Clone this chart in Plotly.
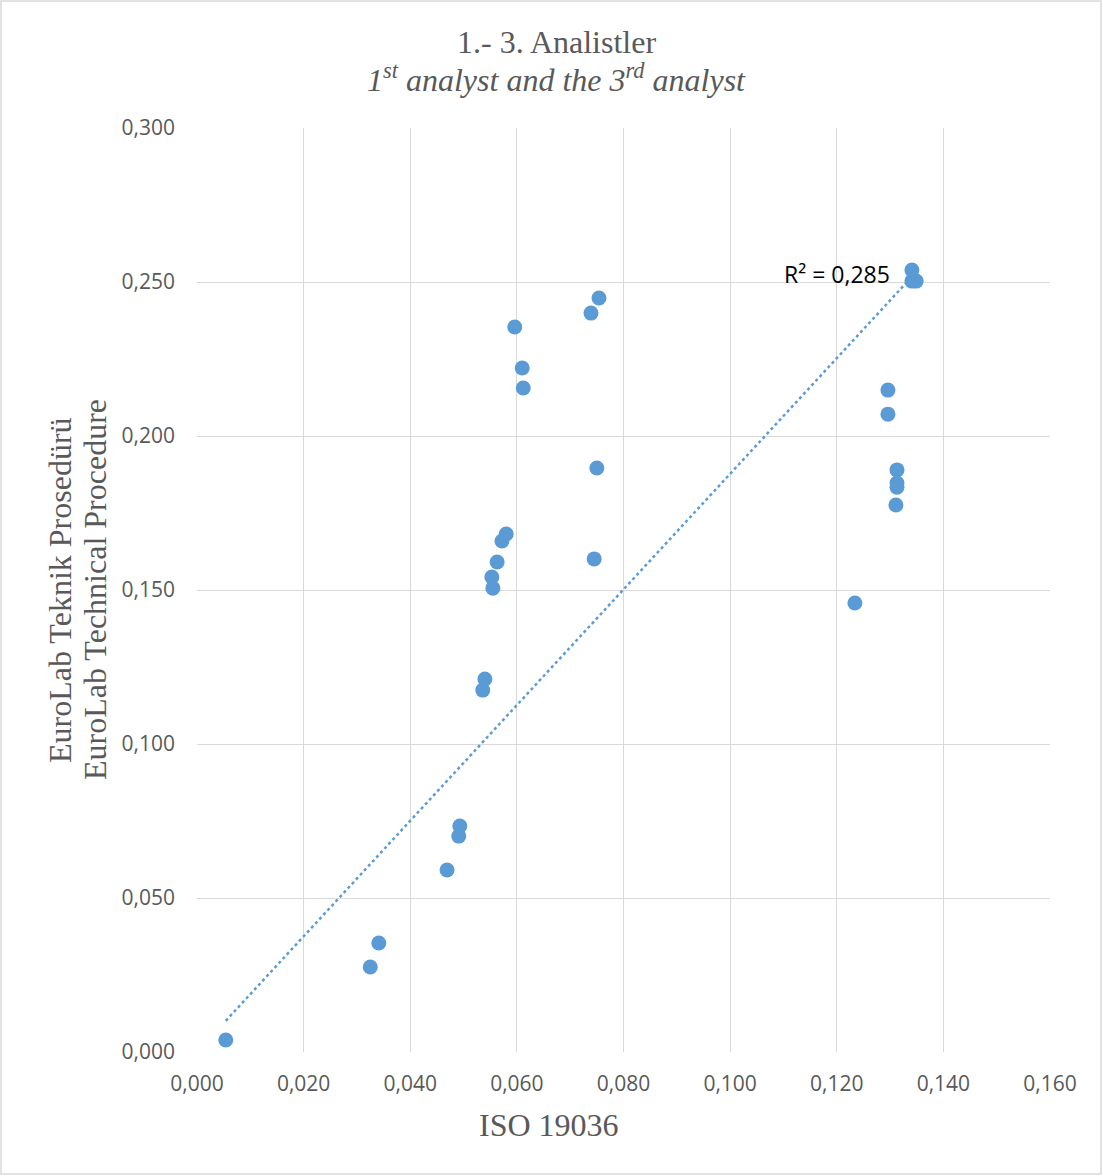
import numpy as np
import plotly.graph_objects as go

iso = [0.0054, 0.0325, 0.0341, 0.0469, 0.0491, 0.0493, 0.0536, 0.0540, 0.0555, 0.0553,
       0.0563, 0.0572, 0.0580, 0.0596, 0.0610, 0.0612, 0.0739, 0.0754, 0.0750, 0.0745,
       0.1234, 0.1296, 0.1296, 0.1313, 0.1313, 0.1313, 0.1311, 0.1341, 0.1341, 0.1349]
eurolab = [0.0039, 0.0276, 0.0354, 0.0591, 0.0701, 0.0734, 0.1175, 0.1211, 0.1506, 0.1542,
           0.1591, 0.1659, 0.1682, 0.2354, 0.2221, 0.2156, 0.2399, 0.2448, 0.1896, 0.1601,
           0.1458, 0.2149, 0.2071, 0.1890, 0.1847, 0.1834, 0.1776, 0.2539, 0.2503, 0.2503]
r2_label = "R² = 0,285"

x = np.array(iso)
y = np.array(eurolab)
# linear trendline with intercept fixed at 0 (least squares through the origin)
slope = float(np.sum(x * y) / np.sum(x * x))
xl = np.array([x.min(), x.max()])
yl = slope * xl

W, H = 1103, 1176
L, R, T, B = 197, 53, 128, 124
pw, ph = W - L - R, H - T - B

def px(v):
    return (v - L) / pw

def py(v):
    return (H - B - v) / ph

blue = "#5B9BD5"
fig = go.Figure()
fig.add_trace(go.Scatter(x=xl, y=yl, mode="lines",
                         line=dict(color=blue, width=2.5, dash="dot"),
                         hoverinfo="skip", showlegend=False))
fig.add_trace(go.Scatter(x=iso, y=eurolab, mode="markers",
                         marker=dict(color=blue, size=15, line=dict(width=0)),
                         showlegend=False))

axis_common = dict(showgrid=True, gridcolor="#d9d9d9", gridwidth=1.3,
                   zeroline=False, tickformat=".3f",
                   tickfont=dict(family="Open Sans, Liberation Sans", size=21, color="#595959"),
                   ticks="", showline=False)
fig.update_xaxes(range=[0, 0.16], dtick=0.02, ticklabelstandoff=17, **axis_common)
fig.update_yaxes(range=[0, 0.3], dtick=0.05, ticklabelstandoff=21, **axis_common)

serif = "Liberation Serif, Times New Roman, serif"
ann = [
    dict(x=px(W / 2 + 5), y=py(42), text="1.- 3. Analistler",
         font=dict(family=serif, size=32, color="#595959")),
    dict(x=px(W / 2 + 5), y=py(78),
         text="<i>1<sup>st</sup> analyst and the 3<sup>rd</sup> analyst</i>",
         font=dict(family=serif, size=32, color="#595959")),
    dict(x=px(549), y=py(1125), text="ISO 19036",
         font=dict(family=serif, size=32, color="#595959")),
    dict(x=px(60), y=py(590), text="EuroLab Teknik Prosedürü", textangle=-90,
         font=dict(family=serif, size=32, color="#595959")),
    dict(x=px(95), y=py(590), text="EuroLab Technical Procedure", textangle=-90,
         font=dict(family=serif, size=32, color="#595959")),
    dict(x=px(837), y=py(274), text=r2_label,
         font=dict(family="Open Sans, Liberation Sans", size=23, color="#000000")),
]
for a in ann:
    a.update(xref="paper", yref="paper", showarrow=False, xanchor="center", yanchor="middle")

fig.update_layout(
    width=W, height=H, autosize=False,
    margin=dict(l=L, r=R, t=T, b=B),
    paper_bgcolor="white", plot_bgcolor="white",
    separators=",.",
    annotations=ann,
    shapes=[dict(type="rect", xref="paper", yref="paper",
                 x0=px(1), x1=px(W - 2), y0=py(H - 2), y1=py(1),
                 line=dict(color="#d9d9d9", width=1.5))],
)
fig.write_html("out.html")
